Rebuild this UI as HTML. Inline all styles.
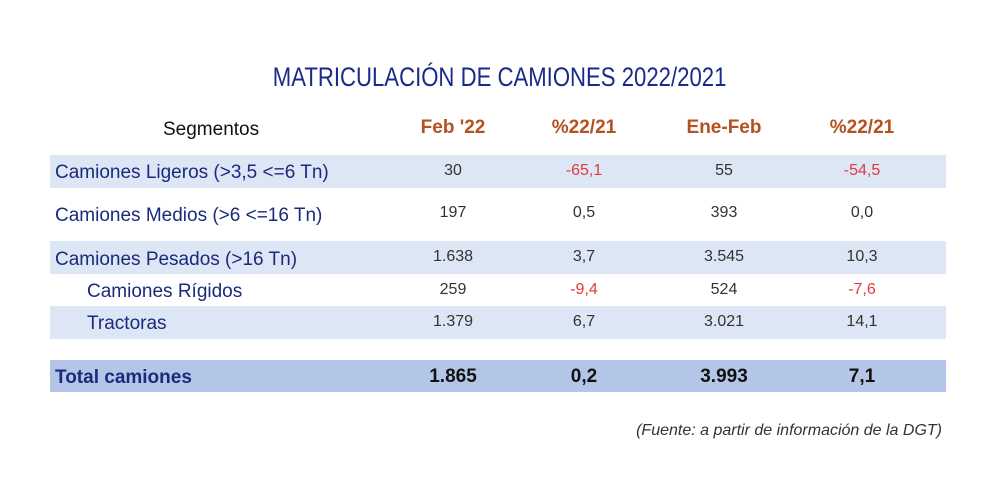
<!DOCTYPE html>
<html><head><meta charset="utf-8"><style>
body{margin:0;width:1000px;height:500px;background:#fff;position:relative;overflow:hidden;font-family:"Liberation Sans",sans-serif}
div{position:absolute}
.band{left:50px;width:896px;height:33px;background:#dde6f4}
.lab{left:55px;font-size:19px;color:#1b2a7c;white-space:nowrap}
.n{font-size:16px;color:#333;width:120px;text-align:center}
.r{color:#e03a3a}
.h{font-size:19px;font-weight:bold;color:#b5501f;width:140px;text-align:center}
.t{font-size:19px;font-weight:bold;color:#111;width:120px;text-align:center}
</style></head><body>
<div style="left:0;width:1000px;top:62px;text-align:center;font-size:27px;color:#1a2a8a;"><span style="display:inline-block;transform:scaleX(0.82)">MATRICULACIÓN DE CAMIONES 2022/2021</span></div>
<div style="left:163px;top:119px;font-size:19px;color:#111">Segmentos</div>
<div class="h" style="left:383px;top:117px">Feb '22</div>
<div class="h" style="left:514px;top:117px">%22/21</div>
<div class="h" style="left:654px;top:117px">Ene-Feb</div>
<div class="h" style="left:792px;top:117px">%22/21</div>

<div class="band" style="top:155px"></div>
<div class="band" style="top:241px"></div>
<div class="band" style="top:306px"></div>
<div class="band" style="top:360px;height:32px;background:#b4c6e7"></div>

<div class="lab" style="top:162px">Camiones Ligeros (&gt;3,5 &lt;=6 Tn)</div>
<div class="n" style="left:393px;top:162px">30</div>
<div class="n r" style="left:524px;top:162px">-65,1</div>
<div class="n" style="left:664px;top:162px">55</div>
<div class="n r" style="left:802px;top:162px">-54,5</div>

<div class="lab" style="top:205px">Camiones Medios (&gt;6 &lt;=16 Tn)</div>
<div class="n" style="left:393px;top:204px">197</div>
<div class="n" style="left:524px;top:204px">0,5</div>
<div class="n" style="left:664px;top:204px">393</div>
<div class="n" style="left:802px;top:204px">0,0</div>

<div class="lab" style="top:249px">Camiones Pesados (&gt;16 Tn)</div>
<div class="n" style="left:393px;top:248px">1.638</div>
<div class="n" style="left:524px;top:248px">3,7</div>
<div class="n" style="left:664px;top:248px">3.545</div>
<div class="n" style="left:802px;top:248px">10,3</div>

<div class="lab" style="top:281px;left:87px">Camiones Rígidos</div>
<div class="n" style="left:393px;top:281px">259</div>
<div class="n r" style="left:524px;top:281px">-9,4</div>
<div class="n" style="left:664px;top:281px">524</div>
<div class="n r" style="left:802px;top:281px">-7,6</div>

<div class="lab" style="top:313px;left:87px">Tractoras</div>
<div class="n" style="left:393px;top:313px">1.379</div>
<div class="n" style="left:524px;top:313px">6,7</div>
<div class="n" style="left:664px;top:313px">3.021</div>
<div class="n" style="left:802px;top:313px">14,1</div>

<div class="lab" style="top:367px;font-weight:bold">Total camiones</div>
<div class="t" style="left:393px;top:366px">1.865</div>
<div class="t" style="left:524px;top:366px">0,2</div>
<div class="t" style="left:664px;top:366px">3.993</div>
<div class="t" style="left:802px;top:366px">7,1</div>

<div style="right:58px;top:422px;font-size:16px;font-style:italic;color:#333">(Fuente: a partir de información de la DGT)</div>
</body></html>
